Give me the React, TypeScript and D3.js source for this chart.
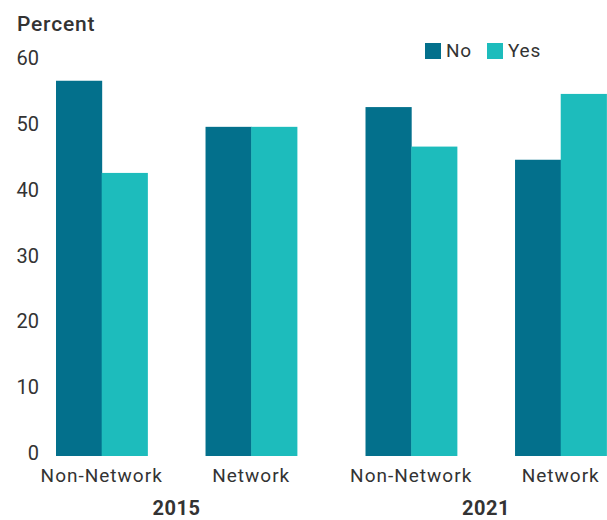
import React from "react";
import * as d3 from "d3";

const years = ["2015", "2021"];
const categories = ["Non-Network", "Network"];
const series = ["No", "Yes"];
const noValues = [57, 50, 53, 45];
const yesValues = [43, 50, 47, 55];
const yTicks = [0, 10, 20, 30, 40, 50, 60];

const colors: Record<string, string> = { No: "#03708C", Yes: "#1DBCBC" };
const FONT = "Roboto, 'DejaVu Sans', sans-serif";
const TEXT = "#333333";

export default function App() {
  const W = 607;
  const H = 520;
  const y = d3.scaleLinear().domain([0, 60]).range([456, 61]);
  const xYear = d3.scaleBand().domain(years).range([56, 606.4]).paddingInner(0.2217).paddingOuter(0);
  const xCat = d3.scaleBand().domain(categories).range([0, xYear.bandwidth()]).paddingInner(0.389).paddingOuter(0);
  const xSer = d3.scaleBand().domain(series).range([0, xCat.bandwidth()]).padding(0);

  const rows = years.flatMap((yr, yi) =>
    categories.map((cat, ci) => {
      const i = yi * categories.length + ci;
      return { yr, cat, No: noValues[i], Yes: yesValues[i] };
    })
  );

  return (
    <svg width={W} height={H} style={{ position: "absolute", left: 0, top: 0 }} fontFamily={FONT}>
      <rect width={W} height={H} fill="#ffffff" />
      <text x={17} y={31} fontSize={21} fontWeight={500} letterSpacing={0.8} fill={TEXT}>Percent</text>
      {yTicks.map((t) => (
        <text key={t} x={39} y={y(t) + 4} fontSize={20} textAnchor="end" fill={TEXT}>{t}</text>
      ))}
      {rows.map((r) => {
        const gx = (xYear(r.yr) ?? 0) + (xCat(r.cat) ?? 0);
        return (
          <g key={r.yr + r.cat}>
            {series.map((s) => {
              const v = (r as any)[s] as number;
              return (
                <rect
                  key={s}
                  x={gx + (xSer(s) ?? 0)}
                  y={y(v)}
                  width={xSer.bandwidth() + 0.5}
                  height={y(0) - y(v)}
                  fill={colors[s]}
                />
              );
            })}
            <text x={gx + xCat.bandwidth() / 2} y={482} fontSize={19} letterSpacing={1} textAnchor="middle" fill={TEXT}>{r.cat}</text>
          </g>
        );
      })}
      {years.map((yr) => (
        <text key={yr} x={(xYear(yr) ?? 0) + xYear.bandwidth() / 2} y={515} fontSize={20} fontWeight={700} letterSpacing={0.5} textAnchor="middle" fill={TEXT}>{yr}</text>
      ))}
      {series.map((s, i) => {
        const lx = 425 + i * 62;
        return (
          <g key={s}>
            <rect x={lx} y={43} width={16} height={16} fill={colors[s]} />
            <text x={lx + 21} y={57} fontSize={19} letterSpacing={0.8} fill={TEXT}>{s}</text>
          </g>
        );
      })}
    </svg>
  );
}
